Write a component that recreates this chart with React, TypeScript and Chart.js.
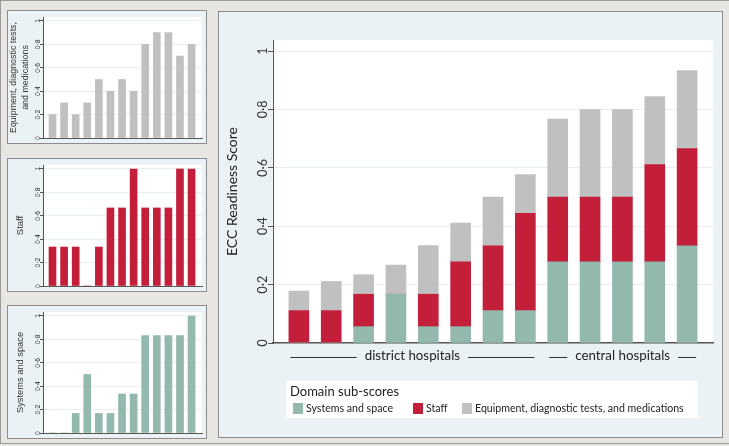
import React, { useEffect, useRef } from 'react';
import { Chart, registerables } from 'chart.js';

Chart.register(...registerables);

// ---------- data ----------
const hospitalPositions = [1, 2, 3, 4, 5, 6, 7, 8, 9, 10, 11, 12, 13];

// domain sub-scores (small panels, each on a 0–1 scale)
const equipmentScores = [0.2, 0.3, 0.2, 0.3, 0.5, 0.4, 0.5, 0.4, 0.8, 0.9, 0.9, 0.7, 0.8];
const staffScores = [0.333, 0.333, 0.333, 0, 0.333, 0.667, 0.667, 1, 0.667, 0.667, 0.667, 1, 1];
const systemsScores = [0, 0, 0.167, 0.5, 0.167, 0.167, 0.333, 0.333, 0.833, 0.833, 0.833, 0.833, 1];

// contributions to the overall ECC readiness score (main stacked chart)
const systemsShare = [0, 0, 0.056, 0.167, 0.056, 0.056, 0.111, 0.111, 0.278, 0.278, 0.278, 0.278, 0.333];
const staffShare = [0.111, 0.111, 0.111, 0, 0.111, 0.222, 0.222, 0.333, 0.222, 0.222, 0.222, 0.333, 0.333];
const equipmentShare = [0.067, 0.1, 0.067, 0.1, 0.167, 0.133, 0.167, 0.133, 0.267, 0.3, 0.3, 0.233, 0.267];

const yTickValues = [0, 0.2, 0.4, 0.6, 0.8, 1];
const yTickLabels = ['0', '0·2', '0·4', '0·6', '0·8', '1'];

const groupLabels = ['district hospitals', 'central hospitals'];
const groupFirst = [1, 9];
const groupLast = [8, 13];

const legendTitle = 'Domain sub-scores';
const seriesNames = ['Systems and space', 'Staff', 'Equipment, diagnostic tests, and medications'];

// ---------- styles ----------
const TEAL = '#93b8ad';
const RED = '#c41f3a';
const GRAY = '#c0c0c0';
const AXIS = '#555555';
const GRID = '#e6eef1';
const PANEL_BG = '#eaf2f5';
const PAGE_BG = '#e8e6e3';
const PANEL_BORDER = '#8c8c8c';

const plotBackground = {
  id: 'plotBackground',
  beforeDraw(chart: any) {
    const { ctx, chartArea: a } = chart;
    ctx.save();
    ctx.fillStyle = '#ffffff';
    ctx.fillRect(a.left, a.top, a.right - a.left, a.bottom - a.top);
    ctx.restore();
  },
};

function rotatedTickLabels(font: string, color: string, gap: number) {
  return {
    id: 'rotatedTickLabels',
    afterDraw(chart: any) {
      const y = chart.scales.y;
      const ctx = chart.ctx;
      ctx.save();
      ctx.font = font;
      ctx.fillStyle = color;
      ctx.textAlign = 'center';
      ctx.textBaseline = 'alphabetic';
      yTickValues.forEach((v, i) => {
        const py = y.getPixelForValue(v);
        ctx.save();
        ctx.translate(y.right - gap, py);
        ctx.rotate(-Math.PI / 2);
        ctx.fillText(yTickLabels[i], 0, 0);
        ctx.restore();
      });
      ctx.restore();
    },
  };
}

const mainBarThickness = 20;

const groupsAndLegend = {
  id: 'groupsAndLegend',
  afterDraw(chart: any) {
    const ctx = chart.ctx;
    const x = chart.scales.x;
    ctx.save();
    // group labels
    ctx.font = '13.3px Lato';
    ctx.fillStyle = '#222';
    ctx.strokeStyle = '#333';
    ctx.lineWidth = 1;
    ctx.textAlign = 'center';
    ctx.textBaseline = 'middle';
    const lineY = 345.5;
    groupLabels.forEach((lab, g) => {
      const left = x.getPixelForValue(groupFirst[g]) - mainBarThickness / 2 + 1.5;
      const right = x.getPixelForValue(groupLast[g]) + mainBarThickness / 2 - 1;
      const c = (left + right) / 2;
      const w = ctx.measureText(lab).width;
      ctx.fillText(lab, c, 344);
      ctx.beginPath();
      ctx.moveTo(left, lineY);
      ctx.lineTo(c - w / 2 - 8, lineY);
      ctx.moveTo(c + w / 2 + 8, lineY);
      ctx.lineTo(right, lineY);
      ctx.stroke();
    });

    // legend
    ctx.fillStyle = '#ffffff';
    ctx.fillRect(67, 369, 412, 37);
    ctx.fillStyle = '#222';
    ctx.textAlign = 'left';
    ctx.font = '13px Lato';
    ctx.fillText(legendTitle, 71, 380);
    const itemX = [74, 194, 243];
    ctx.font = '10.6px Lato';
    chart.data.datasets.forEach((ds: any, i: number) => {
      ctx.fillStyle = ds.backgroundColor;
      ctx.fillRect(itemX[i], 391, 10, 11);
      ctx.fillStyle = '#222';
      ctx.fillText(ds.label, itemX[i] + 13, 397);
    });
    ctx.restore();
  },
};

function smallConfig(values: number[], color: string, title: string | string[], titleSize: number, titleLH: number, titlePad: number): any {
  return {
    type: 'bar',
    data: {
      datasets: [
        {
          data: hospitalPositions.map((x, i) => ({ x, y: values[i] })),
          backgroundColor: color,
          borderWidth: 0,
          barThickness: 7,
          grouped: false,
        },
      ],
    },
    options: {
      responsive: false,
      animation: false,
      devicePixelRatio: 1,
      layout: { padding: { top: 6, right: 4, bottom: 0, left: 0 }, autoPadding: false },
      plugins: { legend: { display: false }, tooltip: { enabled: false } },
      scales: {
        x: {
          type: 'linear',
          offset: false,
          min: 0.18,
          max: 13.9,
          ticks: { display: false },
          grid: { display: false, offset: false },
          border: { display: true, color: AXIS, width: 1 },
          afterFit: (s: any) => {
            s.height = 5;
          },
        },
        y: {
          min: 0,
          max: 1.034,
          afterBuildTicks: (s: any) => {
            s.ticks = yTickValues.map((v) => ({ value: v }));
          },
          ticks: { display: false },
          grid: { color: GRID, tickColor: AXIS, tickLength: 3, lineWidth: 1 },
          border: { display: true, color: AXIS, width: 1 },
          title: {
            display: true,
            text: title,
            color: '#333',
            font: { family: 'Liberation Sans', size: titleSize, lineHeight: titleLH },
            padding: { top: titlePad, bottom: 0 },
          },
          afterFit: (s: any) => {
            s.width = 35;
          },
        },
      },
    },
    plugins: [plotBackground, rotatedTickLabels('6.8px "Liberation Sans"', '#333', 3.5)],
  };
}

function mainConfig(): any {
  const mk = (label: string, values: number[], color: string) => ({
    label,
    data: hospitalPositions.map((x, i) => ({ x, y: values[i] })),
    backgroundColor: color,
    borderWidth: 0,
    barThickness: mainBarThickness,
    grouped: false,
  });
  return {
    type: 'bar',
    data: {
      datasets: [
        mk(seriesNames[0], systemsShare, TEAL),
        mk(seriesNames[1], staffShare, RED),
        mk(seriesNames[2], equipmentShare, GRAY),
      ],
    },
    options: {
      responsive: false,
      animation: false,
      devicePixelRatio: 1,
      layout: { padding: { top: 28, right: 9, bottom: 0, left: 0 }, autoPadding: false },
      plugins: { legend: { display: false }, tooltip: { enabled: false } },
      scales: {
        x: {
          type: 'linear',
          offset: false,
          min: 0.2,
          max: 13.8,
          ticks: { display: false },
          grid: { display: false, offset: false },
          border: { display: true, color: AXIS, width: 1.5 },
          afterFit: (s: any) => {
            s.height = 94;
          },
        },
        y: {
          stacked: true,
          min: 0,
          max: 1.038,
          afterBuildTicks: (s: any) => {
            s.ticks = yTickValues.map((v) => ({ value: v }));
          },
          ticks: { display: false },
          grid: { color: GRID, tickColor: AXIS, tickLength: 5, lineWidth: 1 },
          border: { display: true, color: AXIS, width: 1 },
          title: {
            display: true,
            text: 'ECC Readiness Score',
            color: '#222',
            font: { family: 'Lato', size: 14, lineHeight: 1.2 },
            padding: { top: 5, bottom: 0 },
          },
          afterFit: (s: any) => {
            s.width = 54;
          },
        },
      },
    },
    plugins: [plotBackground, rotatedTickLabels('12.5px Lato', '#333', 6), groupsAndLegend],
  };
}

const panelStyle = (left: number, top: number, width: number, height: number): React.CSSProperties => ({
  position: 'absolute',
  left,
  top,
  width,
  height,
  boxSizing: 'border-box',
  border: `1px solid ${PANEL_BORDER}`,
  background: PANEL_BG,
});

export default function App() {
  const eqRef = useRef<HTMLCanvasElement>(null);
  const stRef = useRef<HTMLCanvasElement>(null);
  const syRef = useRef<HTMLCanvasElement>(null);
  const mainRef = useRef<HTMLCanvasElement>(null);

  useEffect(() => {
    const charts: Chart[] = [];
    charts.push(
      new Chart(eqRef.current!, smallConfig(equipmentScores, GRAY, ['Equipment, diagnostic tests,', 'and medications'], 8.9, 1.35, 0))
    );
    charts.push(new Chart(stRef.current!, smallConfig(staffScores, RED, 'Staff', 9.5, 1.2, 7)));
    charts.push(new Chart(syRef.current!, smallConfig(systemsScores, TEAL, 'Systems and space', 9.3, 1.2, 7)));
    charts.push(new Chart(mainRef.current!, mainConfig()));
    return () => charts.forEach((c) => c.destroy());
  }, []);

  return (
    <div style={{ position: 'fixed', left: 0, top: 0, width: 729, height: 446, background: PAGE_BG, overflow: 'hidden' }}>
      <div
        style={{
          position: 'absolute',
          left: 0,
          top: 0,
          width: 731,
          height: 444,
          boxSizing: 'border-box',
          border: '1px solid #9c9c9c',
        }}
      />
      <div style={panelStyle(7, 10, 200, 134)}>
        <canvas ref={eqRef} width={198} height={132} style={{ display: 'block', width: 198, height: 132 }} />
      </div>
      <div style={panelStyle(7, 158, 200, 134)}>
        <canvas ref={stRef} width={198} height={132} style={{ display: 'block', width: 198, height: 132 }} />
      </div>
      <div style={panelStyle(7, 305, 200, 134)}>
        <canvas ref={syRef} width={198} height={132} style={{ display: 'block', width: 198, height: 132 }} />
      </div>
      <div style={panelStyle(218, 11, 505, 427)}>
        <canvas ref={mainRef} width={503} height={425} style={{ display: 'block', width: 503, height: 425 }} />
      </div>
    </div>
  );
}
